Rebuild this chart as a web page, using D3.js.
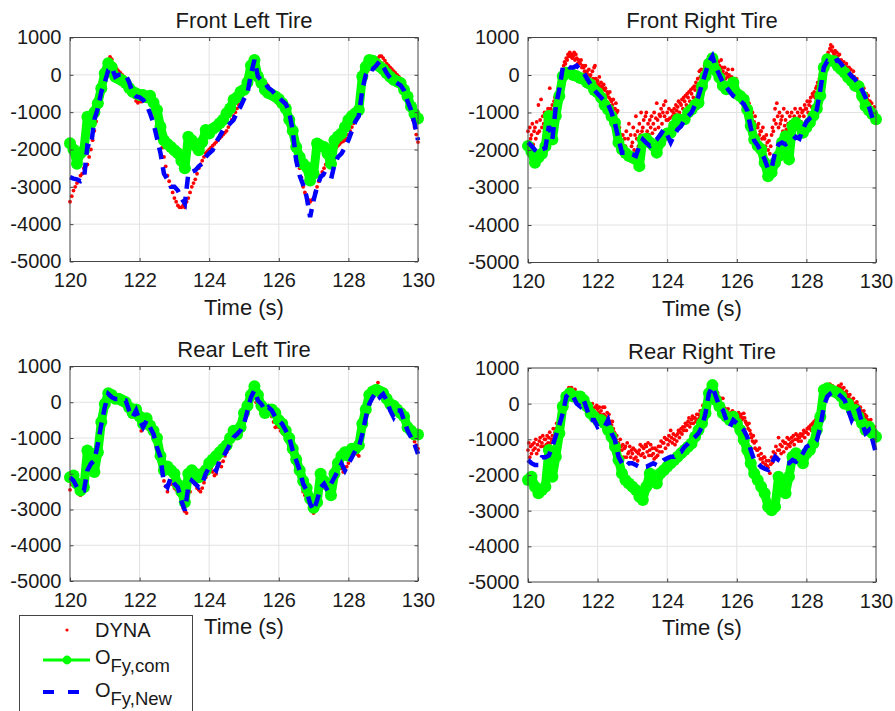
<!DOCTYPE html>
<html><head><meta charset="utf-8">
<script src="https://cdn.jsdelivr.net/npm/d3@7"></script>
<style>body{margin:0;background:#fff}svg{display:block;font-family:"Liberation Sans",Arial,Helvetica,sans-serif}</style>
</head><body><svg id="c" width="895" height="711"></svg>
<script>
const xTicks=[120,122,124,126,128,130];
const yTicks=[-5000,-4000,-3000,-2000,-1000,0,1000];
const titles=["Front Left Tire","Front Right Tire","Rear Left Tire","Rear Right Tire"];
const xLabel="Time (s)";
const lineStep=0.1;   // s between O_Fy samples
// ---------- Front Left ----------
const comFL=[-1830,-2000,-2380,-2100,-2020,-1120,-1300,-1000,-760,-360,
45,310,200,-50,-100,-150,-220,-350,-450,-500,
-540,-540,-600,-560,-750,-940,-1390,-1750,-1850,-1930,
-2020,-2100,-2300,-2500,-1660,-1750,-1900,-2020,-1800,-1480,
-1570,-1450,-1390,-1300,-1200,-1030,-900,-670,-600,-450,
-400,-200,250,400,-45,-220,-400,-490,-530,-580,
-650,-760,-900,-1200,-1500,-1930,-2200,-2380,-2470,-2830,
-2650,-1840,-1900,-1930,-2110,-2380,-1750,-1650,-1570,-1400,
-1210,-1100,-1030,-940,-45,220,400,380,300,220,
150,45,-50,-130,-180,-220,-400,-580,-850,-1050,
-1170];
const newFL=[-2740,-2780,-2800,-2850,-2800,-1900,-1930,-1200,-900,-450,
-200,130,200,-50,0,0,0,-200,-490,-580,
-600,-670,-800,-1030,-1300,-1700,-2100,-2650,-2800,-3000,
-3000,-3100,-3300,-3450,-2650,-2600,-2560,-2450,-2380,-2200,
-2100,-2020,-1800,-1650,-1480,-1400,-1300,-1210,-1000,-850,
-650,-490,20,400,-45,-150,-220,-350,-420,-520,
-600,-700,-780,-1000,-1500,-2290,-2700,-2950,-3270,-3810,
-3360,-3000,-2740,-2650,-2700,-2800,-2400,-2200,-2110,-1950,
-1750,-1500,-1250,-1100,-400,0,180,150,250,360,
220,45,-80,-160,-220,-280,-420,-700,-940,-1300,
-1750];
const dynaStepFL=0.05;
const dynaFL=[-3400,-3250,-3100,-3000,-2900,-2850,-2700,-2650,-2500,-2450,-2400,-2200,-2000,-1750,-1500,-1250,-1000,-800,-600,-300,
-100,200,400,480,420,300,200,150,100,50,0,-50,-100,-200,-300,-400,-500,-600,-700,-750,
-700,-720,-700,-650,-650,-700,-750,-800,-900,-1100,-1300,-1500,-1700,-1950,-2200,-2450,-2700,-2850,-3000,-3150,
-3300,-3400,-3500,-3550,-3550,-3500,-3550,-3400,-3300,-3150,-3000,-2900,-2800,-2650,-2500,-2400,-2300,-2200,-2100,-2050,
-2000,-1950,-1900,-1850,-1800,-1750,-1700,-1650,-1600,-1550,-1500,-1400,-1300,-1200,-1100,-1000,-900,-800,-700,-550,
-400,-250,-100,50,200,300,300,200,100,0,-100,-150,-200,-250,-300,-400,-500,-600,-700,-750,
-800,-850,-900,-950,-1000,-1100,-1200,-1350,-1500,-1750,-2000,-2250,-2500,-2750,-3000,-3150,-3300,-3350,-3400,-3350,
-3300,-3150,-3000,-2850,-2700,-2600,-2500,-2400,-2300,-2200,-2100,-2050,-2000,-1950,-1900,-1850,-1800,-1780,-1750,-1700,
-1600,-1500,-1400,-1300,-1200,-1000,-800,-550,-300,-150,0,100,200,250,300,350,400,450,500,500,
450,380,300,250,200,150,100,50,0,-50,-100,-200,-300,-450,-600,-800,-1000,-1200,-1400,-1600,
-1800];
// ---------- Front Right ----------
const comFR=[-1890,-2050,-2340,-2200,-2100,-1900,-1090,-1720,-1090,-560,
-30,60,60,0,-30,-80,-110,-200,-250,-400,
-470,-600,-800,-920,-1100,-1270,-1800,-1980,-2080,-2160,
-2200,-2250,-2430,-1720,-1700,-1800,-1890,-2070,-1800,-1630,
-1560,-1540,-1350,-1180,-1200,-1180,-1000,-920,-800,-740,
-300,-30,300,450,110,-70,-290,-380,-300,-200,
-500,-560,-650,-920,-1360,-1720,-1890,-1980,-2340,-2700,
-2600,-2340,-2160,-1800,-1630,-2250,-1360,-1270,-1360,-1540,
-1400,-1270,-1090,-900,-550,200,420,380,370,240,
150,60,-70,-160,-290,-300,-560,-830,-950,-1050,
-1180];
const newFR=[-1800,-1890,-2000,-2070,-1980,-1950,-1360,-1720,-830,-380,
200,280,200,200,250,150,60,-100,-250,-400,
-500,-600,-700,-780,-1000,-1300,-1700,-2070,-2070,-2100,
-2120,-2160,-1900,-1720,-1810,-1890,-1800,-1720,-1600,-1450,
-1600,-1800,-1600,-1450,-1360,-1200,-1100,-1000,-800,-560,
-250,60,350,500,200,0,-200,-320,-450,-560,
-620,-700,-770,-950,-1400,-1750,-1880,-2050,-2250,-2500,
-2500,-2050,-1850,-1800,-1850,-1800,-1750,-1650,-1700,-1450,
-1250,-1150,-1090,-920,-400,200,370,330,350,400,
300,150,80,-30,-120,-250,-400,-600,-850,-1150,
-1320];
const dynaStepFR=0.025;
const dynaFR=[-1500,-1800,-1400,-1700,-1600,-1300,-1850,-1500,-1400,-1700,-1250,-1550,-800,-1500,-1200,-650,-1400,-1100,-1300,-1000,
-1200,-1000,-1350,-900,-1100,-350,-900,-1000,-800,-950,-700,-600,-600,-500,-700,-400,-300,-150,-50,100,
150,250,350,300,450,400,550,500,600,500,550,450,500,600,400,550,450,300,400,350,
300,400,200,250,200,100,250,50,100,0,150,-50,0,-150,100,-100,200,250,-100,-200,
-150,-250,-50,-300,-200,-300,-350,-250,-400,-350,-550,-450,-500,-600,-450,-650,-700,-800,-650,-900,
-900,-750,-1000,-950,-1500,-1400,-1700,-1600,-1800,-1600,-1900,-1700,-1900,-1500,-2100,-1700,-1300,-2200,-1600,-1900,
-1800,-1400,-2000,-1600,-1100,-1700,-1500,-1900,-1300,-1600,-1000,-1500,-1400,-1200,-1700,-1100,-1000,-1500,-1300,-1600,
-1200,-1400,-1100,-1550,-1300,-1000,-1450,-1150,-750,-1200,-1400,-1050,-1100,-900,-1300,-1000,-800,-1100,-700,-1200,
-1000,-1200,-900,-1150,-1300,-950,-1100,-1000,-900,-1050,-800,-950,-850,-700,-1000,-750,-800,-650,-900,-600,
-700,-550,-800,-500,-600,-450,-700,-400,-500,-350,-600,-300,-400,-200,-300,-100,-250,100,-50,150,
0,-100,150,250,200,100,350,300,400,300,500,450,450,350,500,300,300,400,200,350,
250,150,400,200,100,0,200,-100,50,-50,150,0,-100,-200,-50,150,-300,-200,-400,-100,
-400,-550,-450,-600,-500,-650,-700,-550,-700,-650,-900,-800,-850,-950,-750,-1000,-1100,-1200,-1000,-1300,
-1250,-1100,-1400,-1350,-1400,-1300,-1600,-1500,-1500,-1700,-1400,-1650,-1700,-1900,-1600,-1800,-2000,-1750,-2100,-1900,
-1600,-1400,-1500,-1200,-900,-1300,-750,-1100,-1400,-1000,-1300,-1200,-1100,-1500,-900,-1350,-1200,-1450,-1000,-1300,
-1500,-1100,-1250,-1000,-1300,-1450,-1100,-900,-1200,-1400,-1000,-1300,-1100,-900,-1250,-1000,-950,-1100,-800,-900,
-900,-700,-1000,-800,-700,-600,-850,-500,-550,-450,-600,-350,-300,-200,-400,-100,0,100,-100,250,
300,200,450,350,500,600,450,700,800,650,750,600,550,650,450,600,500,400,550,350,
400,300,250,350,250,150,300,200,100,200,0,150,0,-100,100,-50,-150,-250,-100,-300,
-300,-200,-350,-250,-400,-500,-350,-550,-600,-500,-650,-550,-800,-700,-900,-750,-900,-1000,-850,-1100,
-1200];
// ---------- Rear Left ----------
const comRL=[-2100,-2050,-2280,-2470,-2380,-1350,-1450,-1950,-1400,-550,
-50,250,200,100,100,50,0,-150,-300,-200,
-400,-600,-450,-650,-800,-1000,-1500,-1900,-1800,-1900,
-2000,-2300,-2500,-2800,-2000,-1900,-2000,-2100,-2000,-1900,
-1700,-1600,-1500,-1400,-1300,-1200,-1000,-800,-900,-700,
-300,-100,200,450,200,-100,-300,-200,-200,-300,
-500,-600,-800,-1000,-1300,-1600,-1900,-2200,-2400,-2700,
-2950,-2800,-2000,-2200,-2300,-2600,-2000,-1700,-1500,-1400,
-1500,-1300,-1300,-1200,-600,-200,200,300,350,300,
250,100,-50,-100,-200,-300,-400,-700,-800,-900,
-900];
const newRL=[-2100,-2190,-2380,-2470,-2470,-1910,-1720,-1630,-1170,-610,
-140,230,140,90,90,50,50,-230,-420,-230,
-510,-700,-510,-700,-890,-1260,-1540,-2280,-2380,-2100,
-2280,-2380,-2750,-3030,-2380,-2190,-2280,-2380,-2280,-2000,
-1820,-1820,-1910,-1630,-1540,-1350,-1170,-980,-890,-790,
-610,-230,140,330,50,-50,-230,-140,-230,-420,
-510,-610,-790,-980,-1350,-1630,-1910,-2280,-2470,-2840,
-3030,-2750,-2380,-2280,-2470,-2280,-2100,-1910,-1720,-1910,
-1720,-1540,-1350,-1260,-890,-420,-50,140,280,140,
230,50,-230,-420,-230,-230,-510,-790,-980,-1170,
-1450];
const dynaStepRL=0.05;
const dynaRL=[-2450,-2300,-2250,-2350,-2450,-2550,-2600,-2550,-2500,-2300,-2000,-1800,-1700,-1650,-1750,-1800,-1500,-1100,-700,-400,
-100,100,200,150,100,150,50,100,0,50,0,-100,-50,-200,-250,-400,-350,-300,-150,-400,
-550,-800,-700,-500,-600,-750,-800,-850,-900,-1100,-1300,-1500,-1700,-2000,-2200,-2350,-2500,-2300,-2200,-2300,
-2400,-2450,-2500,-2600,-2800,-2950,-3050,-3100,-2800,-2500,-2200,-2100,-2300,-2400,-2450,-2500,-2400,-2250,-2100,-2000,
-1900,-1850,-1950,-2050,-2000,-1800,-1700,-1800,-1650,-1500,-1400,-1300,-1200,-1100,-1000,-900,-800,-750,-600,-550,
-500,-300,-100,100,200,300,250,0,-100,-200,-100,-250,-300,-200,-150,-200,-400,-550,-700,-650,
-700,-800,-850,-900,-1000,-1100,-1200,-1400,-1500,-1700,-1800,-2000,-2100,-2300,-2500,-2600,-2700,-2800,-2950,-3050,
-3100,-2900,-2700,-2550,-2450,-2400,-2300,-2350,-2400,-2300,-2200,-2100,-2050,-1950,-1850,-1800,-1850,-1950,-1900,-1800,
-1700,-1600,-1550,-1450,-1400,-1450,-1500,-1200,-900,-600,-300,-100,50,150,250,350,450,550,400,300,
250,350,150,0,-150,-250,-300,-200,-250,-300,-350,-400,-450,-550,-700,-800,-900,-1000,-1100,-1200,
-1300];
// ---------- Rear Right ----------
const comRR=[-2140,-2050,-2330,-2510,-2420,-2330,-1300,-2050,-1490,-830,
-80,200,290,200,200,200,100,-80,-270,-370,
-460,-460,-550,-740,-930,-1210,-1580,-1960,-2140,-2240,
-2330,-2420,-2610,-2700,-2330,-1960,-2050,-2240,-1960,-1870,
-1770,-1670,-1580,-1490,-1390,-1300,-1210,-1120,-930,-740,
-550,-270,290,520,100,-80,-270,-370,-460,-370,
-550,-740,-1020,-1300,-1670,-1960,-2140,-2330,-2510,-2890,
-2990,-2890,-2050,-2140,-2510,-2050,-1490,-1390,-1490,-1670,
-1390,-1300,-1120,-740,-370,380,430,380,340,290,
200,0,0,-180,-180,-370,-550,-740,-650,-830,
-930];
const newRR=[-1580,-1670,-1720,-1720,-1500,-1500,-1450,-1200,-900,-600,
-270,200,290,200,0,-80,100,-180,-460,-460,
-650,-600,-650,-460,-830,-1020,-1490,-1670,-1770,-1670,
-1670,-1720,-1770,-1770,-1770,-1720,-1670,-1720,-1670,-1580,
-1530,-1490,-1490,-1390,-1350,-1210,-1120,-1020,-930,-830,
-650,-270,290,480,200,-80,-180,-460,-650,-460,
-550,-650,-740,-930,-1300,-1580,-1670,-1770,-1820,-1860,
-1670,-1490,-1580,-1630,-1670,-1670,-1580,-1630,-1530,-1390,
-1210,-1160,-1120,-1020,-650,-80,200,290,340,290,
200,100,-180,-460,-270,-180,-550,-830,-740,-1020,
-1390];
const dynaStepRR=0.025;
const dynaRR=[-1300,-1100,-1500,-1200,-1400,-1150,-1300,-1100,-1250,-1000,-1400,-1150,-1300,-1050,-950,-1200,-1100,-900,-1200,-1000,
-1000,-1150,-900,-1100,-950,-800,-1100,-1000,-900,-700,-1000,-800,-700,-550,-800,-600,-500,-300,-200,-400,
-100,50,200,100,250,350,200,450,400,300,450,350,350,250,400,200,250,150,300,200,
200,100,250,150,100,0,150,-50,-100,50,-200,0,-100,-200,0,-150,-200,-100,-300,-50,
-150,-250,-100,-300,-200,-350,-100,-300,-100,-350,-450,-250,-400,-300,-550,-500,-600,-500,-700,-800,
-850,-1000,-900,-1100,-1100,-1300,-1000,-1200,-1300,-1150,-1500,-1250,-1200,-1500,-1100,-1400,-1350,-1200,-1500,-1300,
-1400,-1250,-1550,-1300,-1500,-1350,-1600,-1400,-1300,-1150,-1450,-1200,-1400,-1250,-1500,-1150,-1200,-1350,-1100,-1450,
-1300,-1150,-1450,-1250,-1400,-1550,-1250,-1500,-1300,-1450,-1200,-1350,-1200,-1050,-1350,-1100,-1100,-950,-1250,-1000,
-1000,-1150,-900,-1050,-750,-950,-1100,-850,-1000,-1150,-900,-1050,-850,-750,-950,-800,-700,-850,-650,-750,
-650,-550,-750,-600,-500,-400,-650,-550,-450,-350,-550,-400,-400,-500,-300,-450,-300,-400,-200,-350,
-200,-50,-250,-100,0,100,-50,150,250,350,200,400,350,400,300,350,250,150,300,200,
100,0,150,-50,150,-100,-250,-150,-200,-300,-150,-350,-300,-250,-350,-200,-350,-250,-300,-400,
-300,-400,-250,-450,-350,-300,-450,-400,-270,-400,-500,-550,-600,-700,-550,-750,-850,-950,-1050,-900,
-1100,-1250,-1050,-1300,-1300,-1450,-1250,-1550,-1400,-1550,-1650,-1500,-1500,-1700,-1600,-1750,-1800,-1600,-1950,-1700,
-1500,-1650,-1350,-1550,-1400,-1200,-1500,-1300,-950,-1300,-1150,-1400,-1200,-1050,-1350,-1100,-1100,-1250,-950,-1150,
-1000,-1200,-1100,-950,-1050,-900,-1150,-1000,-850,-1000,-900,-1050,-950,-850,-1050,-900,-850,-750,-950,-800,
-800,-700,-850,-650,-700,-600,-750,-550,-600,-500,-650,-450,-400,-300,-450,-250,-150,0,100,-50,
250,350,300,450,400,500,350,550,450,350,500,400,350,300,450,400,400,500,350,450,
550,400,300,450,300,200,350,250,200,150,250,100,100,50,150,0,0,-100,50,-50,
-150,-250,-100,-200,-250,-350,-200,-300,-400,-350,-450,-500,-500,-600,-450,-650,-700,-800,-650,-850,
-900];

const legendLabels=["DYNA","O","Fy,com","O","Fy,New"];
const colDyna="#ff0000", colCom="#00ff00", colNew="#0000ff";

const panels=[
 {title:titles[0],dyna:dynaFL,dStep:dynaStepFL,com:comFL,neu:newFL,l:70,r:418,t:37.5,b:261.5},
 {title:titles[1],dyna:dynaFR,dStep:dynaStepFR,com:comFR,neu:newFR,l:528,r:876,t:37.5,b:262.5},
 {title:titles[2],dyna:dynaRL,dStep:dynaStepRL,com:comRL,neu:newRL,l:70,r:418,t:366.5,b:581},
 {title:titles[3],dyna:dynaRR,dStep:dynaStepRR,com:comRR,neu:newRR,l:528,r:876,t:368,b:582}
];
const svg=d3.select('#c');
const txt="#1a1a1a", axc="#444";
const fmt=d=>String(d);
panels.forEach(p=>{
  const x=d3.scaleLinear().domain([120,130]).range([p.l,p.r]);
  const y=d3.scaleLinear().domain([-5000,1000]).range([p.b,p.t]);
  const g=svg.append('g');
  g.append('rect').attr('x',p.l).attr('y',p.t).attr('width',p.r-p.l).attr('height',p.b-p.t).attr('fill','#fff');
  g.append('g').selectAll('line').data(xTicks.slice(1,-1)).join('line')
    .attr('x1',d=>x(d)).attr('x2',d=>x(d)).attr('y1',p.t).attr('y2',p.b).attr('stroke','#e2e2e2').attr('stroke-width',1);
  g.append('g').selectAll('line').data(yTicks.slice(1,-1)).join('line')
    .attr('y1',d=>y(d)).attr('y2',d=>y(d)).attr('x1',p.l).attr('x2',p.r).attr('stroke','#e2e2e2').attr('stroke-width',1);
  g.append('g').selectAll('circle').data(p.dyna).join('circle')
    .attr('cx',(d,i)=>x(120+i*p.dStep)).attr('cy',d=>y(d)).attr('r',1.9).attr('fill',colDyna);
  const line=d3.line().x((d,i)=>x(120+i*lineStep)).y(d=>y(d));
  g.append('path').datum(p.com).attr('d',line).attr('fill','none').attr('stroke',colCom).attr('stroke-width',9).attr('stroke-linejoin','round').attr('stroke-linecap','round');
  g.append('g').selectAll('circle').data(p.com).join('circle')
    .attr('cx',(d,i)=>x(120+i*lineStep)).attr('cy',d=>y(d)).attr('r',6).attr('fill',colCom);
  g.append('path').datum(p.neu).attr('d',line).attr('fill','none').attr('stroke',colNew).attr('stroke-width',4.5).attr('stroke-dasharray','12,8');
  const style=sel=>{sel.select('.domain').remove();sel.selectAll('.tick line').attr('stroke',axc);
    sel.selectAll('text').attr('fill',txt).attr('font-size','20px');sel.attr('font-family',null).attr('font-size',null);};
  g.append('g').attr('transform',`translate(0,${p.b})`).call(d3.axisBottom(x).tickValues(xTicks).tickFormat(fmt).tickSize(-3.5).tickPadding(11.3)).call(style);
  g.append('g').attr('transform',`translate(0,${p.t})`).call(d3.axisTop(x).tickValues(xTicks).tickFormat('').tickSize(-3.5)).call(style);
  g.append('g').attr('transform',`translate(${p.l},0)`).call(d3.axisLeft(y).tickValues(yTicks).tickFormat(fmt).tickSize(-3.5).tickPadding(8.5)).call(style);
  g.append('g').attr('transform',`translate(${p.r},0)`).call(d3.axisRight(y).tickValues(yTicks).tickFormat('').tickSize(-3.5)).call(style);
  g.append('rect').attr('x',p.l).attr('y',p.t).attr('width',p.r-p.l).attr('height',p.b-p.t).attr('fill','none').attr('stroke',axc).attr('stroke-width',1);
  g.append('text').attr('x',(p.l+p.r)/2).attr('y',p.t-9.5).attr('text-anchor','middle').attr('font-size','22px').attr('fill',txt).text(p.title);
  g.append('text').attr('x',(p.l+p.r)/2).attr('y',p.b+53).attr('text-anchor','middle').attr('font-size','22px').attr('fill',txt).text(xLabel);
});
// legend
const lg=svg.append('g');
lg.append('rect').attr('x',19.5).attr('y',615.5).attr('width',173).attr('height',100).attr('fill','#fff').attr('stroke',axc);
lg.append('circle').attr('cx',67).attr('cy',630).attr('r',1.6).attr('fill',colDyna);
lg.append('text').attr('x',95).attr('y',637).attr('font-size','20px').attr('fill',txt).text(legendLabels[0]);
lg.append('line').attr('x1',43).attr('x2',90).attr('y1',660).attr('y2',660).attr('stroke',colCom).attr('stroke-width',3);
lg.append('circle').attr('cx',67).attr('cy',660).attr('r',4.4).attr('fill',colCom);
const t1=lg.append('text').attr('x',95).attr('y',664).attr('font-size','20px').attr('fill',txt);
t1.append('tspan').text(legendLabels[1]);
t1.append('tspan').attr('dy',8).attr('font-size','18.5px').text(legendLabels[2]);
lg.append('line').attr('x1',43).attr('x2',90).attr('y1',692).attr('y2',692).attr('stroke',colNew).attr('stroke-width',4).attr('stroke-dasharray','11,14');
const t2=lg.append('text').attr('x',95).attr('y',697).attr('font-size','20px').attr('fill',txt);
t2.append('tspan').text(legendLabels[3]);
t2.append('tspan').attr('dy',8).attr('font-size','18.5px').text(legendLabels[4]);
</script></body></html>
